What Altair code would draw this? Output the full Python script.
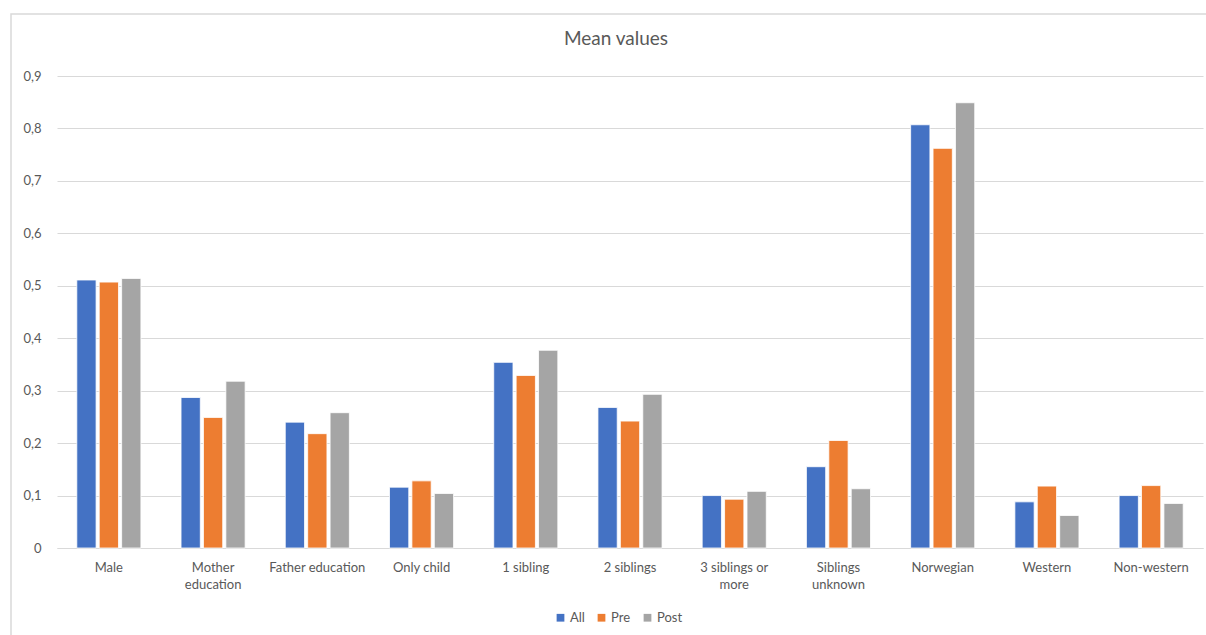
import altair as alt
import pandas as pd

categories = ["Male", "Mother education", "Father education", "Only child", "1 sibling",
              "2 siblings", "3 siblings or more", "Siblings unknown", "Norwegian",
              "Western", "Non-western"]
series = ["All", "Pre", "Post"]
all_vals = [0.511, 0.287, 0.240, 0.116, 0.354, 0.268, 0.100, 0.155, 0.807, 0.088, 0.100]
pre_vals = [0.507, 0.249, 0.218, 0.128, 0.329, 0.242, 0.093, 0.205, 0.762, 0.118, 0.119]
post_vals = [0.514, 0.318, 0.258, 0.104, 0.377, 0.293, 0.108, 0.113, 0.849, 0.062, 0.085]
colors = ["#4472C4", "#ED7D31", "#A5A5A5"]

rows = []
for s, vals in zip(series, [all_vals, pre_vals, post_vals]):
    for c, v in zip(categories, vals):
        rows.append({"category": c, "series": s, "value": v})
df = pd.DataFrame(rows)

FONT = "Lato"
GRAY = "#595959"

label_expr = ("datum.label == 'Mother education' ? ['Mother', 'education'] : "
              "datum.label == '3 siblings or more' ? ['3 siblings or', 'more'] : "
              "datum.label == 'Siblings unknown' ? ['Siblings', 'unknown'] : datum.label")

bars = alt.Chart(df).mark_bar(stroke="white", strokeWidth=0.8).encode(
    x=alt.X("category:N", sort=categories, title=None,
            scale=alt.Scale(paddingInner=0.385, paddingOuter=0.19),
            axis=alt.Axis(labelAngle=0, labelExpr=label_expr, labelFont=FONT,
                          labelFontSize=13, labelColor=GRAY, labelPadding=13,
                          labelLineHeight=17, ticks=False, domain=True,
                          domainColor="#d9d9d9", domainWidth=1.2, grid=False,
                          labelBaseline="top")),
    xOffset=alt.XOffset("series:N", sort=series,
                        scale=alt.Scale(paddingInner=0.14)),
    y=alt.Y("value:Q", title=None,
            scale=alt.Scale(domain=[0, 0.9], nice=False),
            axis=alt.Axis(values=[0, 0.1, 0.2, 0.3, 0.4, 0.5, 0.6, 0.7, 0.8, 0.9],
                          labelExpr="datum.value == 0 ? '0' : replace(format(datum.value, '.1f'), '.', ',')",
                          labelFont=FONT, labelFontSize=13, labelColor=GRAY,
                          labelPadding=16, ticks=False, domain=False,
                          gridColor="#d9d9d9", gridWidth=1)),
    color=alt.Color("series:N", sort=series,
                    scale=alt.Scale(domain=series, range=colors),
                    legend=alt.Legend(title=None, orient="none", direction="horizontal",
                                      legendX=497, legendY=535, symbolType="square",
                                      symbolSize=60, symbolStrokeWidth=0,
                                      labelFont=FONT, labelFontSize=13,
                                      labelColor=GRAY, columnPadding=10,
                                      symbolOffset=0, labelOffset=3)),
)

border = alt.Chart(pd.DataFrame({"d": [0]})).mark_rect(
    fill=None, stroke="#d9d9d9", strokeWidth=1.5
).encode(x=alt.value(-46), y=alt.value(-62), x2=alt.value(1160), y2=alt.value(620))

chart = alt.layer(border, bars).properties(
    width=1146, height=472,
    title=alt.TitleParams("Mean values", font=FONT, fontSize=19, fontWeight="normal",
                          color=GRAY, anchor="middle", offset=-36, dx=-14),
    autosize=alt.AutoSizeParams(type="none"),
    padding={"left": 57, "top": 76, "right": 3, "bottom": 87},
).configure_view(stroke=None)

chart.save("out.html", embed_options={"renderer": "svg", "actions": False})
